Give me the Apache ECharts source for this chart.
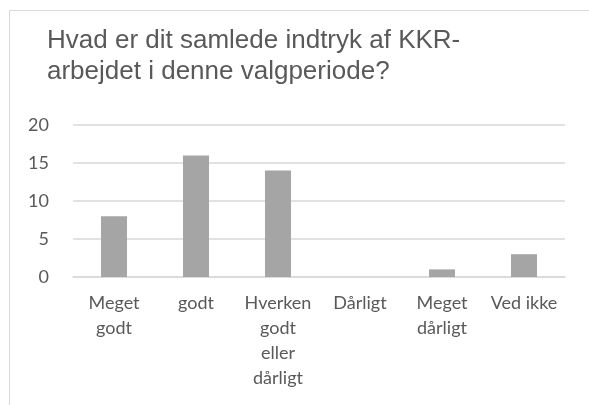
<!DOCTYPE html>
<html>
<head>
<meta charset="utf-8">
<title>KKR</title>
<script src="https://cdn.jsdelivr.net/npm/echarts@6/dist/echarts.min.js"></script>
<style>
  html,body{margin:0;padding:0;background:#fff;}
  #chart{width:589px;height:405px;}
</style>
</head>
<body>
<div id="chart"></div>
<script>
var categories = ['Meget\ngodt', 'godt', 'Hverken\ngodt\neller\ndårligt', 'Dårligt', 'Meget\ndårligt', 'Ved ikke'];
var values = [8, 16, 14, 0, 1, 3];
var yTicks = [0, 5, 10, 15, 20];

var chart = echarts.init(document.getElementById('chart'));
var option = {
  animation: false,
  color: ['#a5a5a5'],
  graphic: [{
    type: 'polyline',
    shape: { points: [[9.5, 405], [9.5, 10.5], [589, 10.5]] },
    style: { stroke: '#d9d9d9', lineWidth: 1, fill: null }
  }],
  title: {
    text: 'Hvad er dit samlede indtryk af KKR-\narbejdet i denne valgperiode?',
    left: 42,
    top: 20,
    textStyle: {
      fontFamily: 'Liberation Sans',
      fontSize: 26,
      fontWeight: 'normal',
      color: '#595959',
      lineHeight: 31
    }
  },
  grid: { left: 73, right: 24, top: 125, bottom: 128, containLabel: false },
  xAxis: {
    type: 'category',
    data: categories,
    axisLine: { lineStyle: { color: '#d9d9d9', width: 1.5 } },
    axisTick: { show: false },
    axisLabel: {
      interval: 0,
      margin: 14,
      fontFamily: 'Lato',
      fontSize: 18,
      lineHeight: 25,
      color: '#595959'
    }
  },
  yAxis: {
    type: 'value',
    min: yTicks[0],
    max: yTicks[yTicks.length - 1],
    interval: 5,
    axisLine: { show: false },
    axisTick: { show: false },
    splitLine: { lineStyle: { color: '#d9d9d9', width: 1.5 } },
    axisLabel: {
      margin: 24,
      fontFamily: 'Lato',
      fontSize: 18,
      color: '#595959'
    }
  },
  series: [{
    type: 'bar',
    data: values,
    barWidth: 26
  }]
};
chart.setOption(option);
</script>
</body>
</html>
